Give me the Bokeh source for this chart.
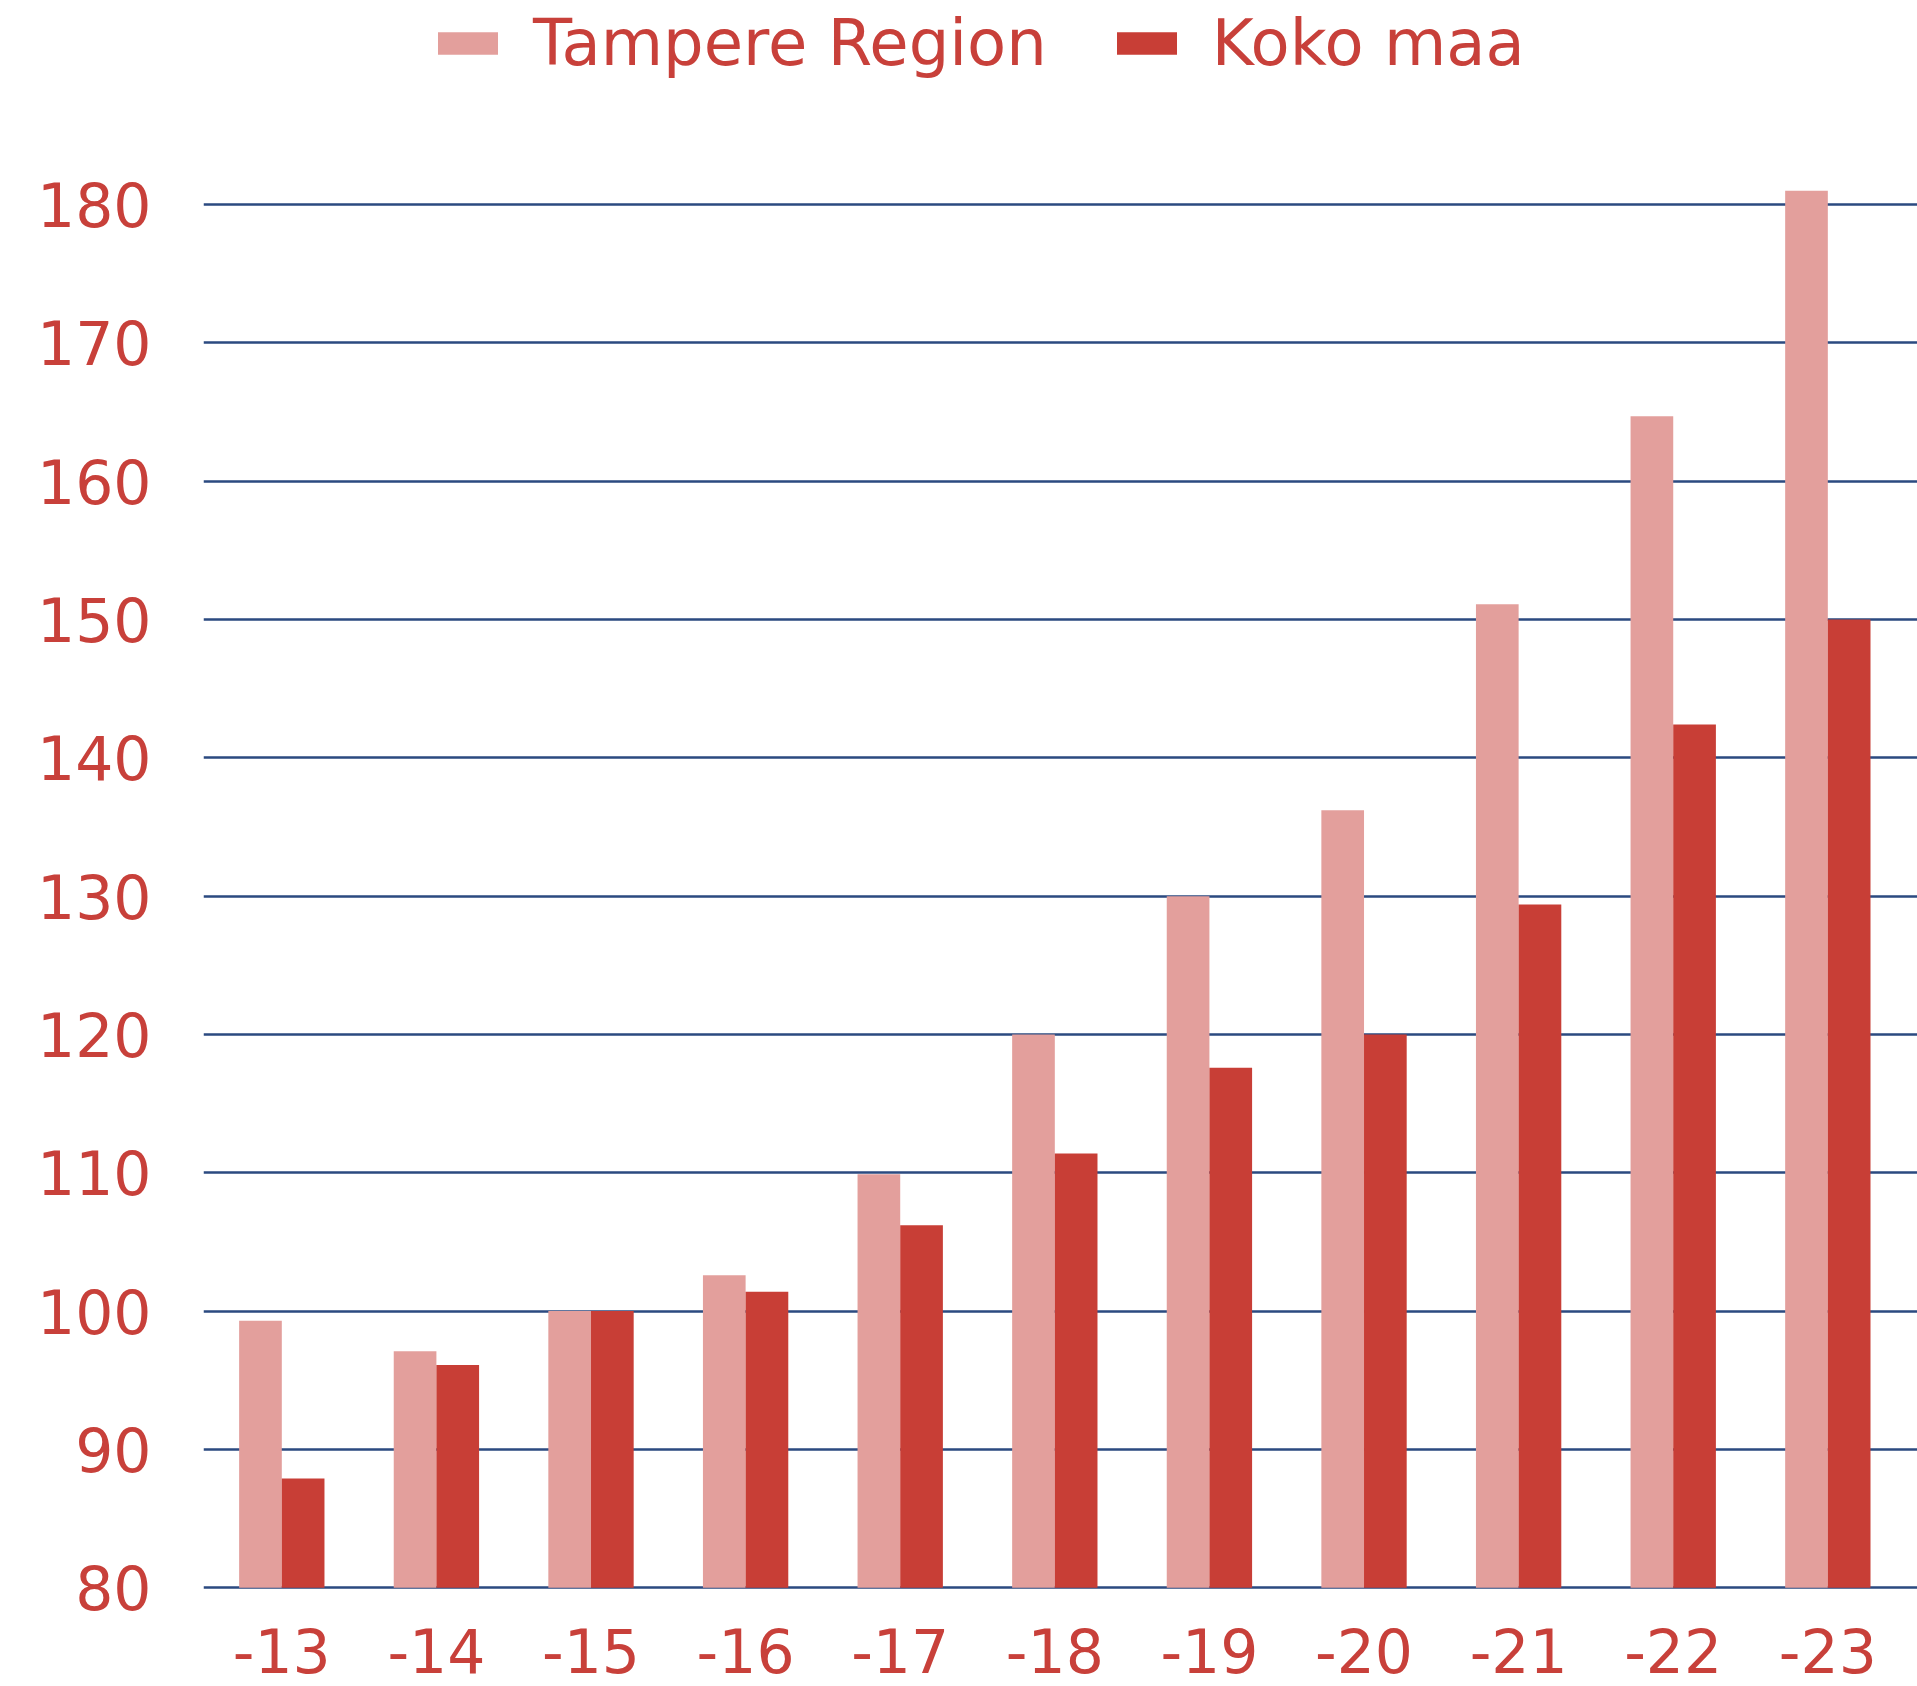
from bokeh.plotting import figure
from bokeh.models import Range1d, Legend, LegendItem, FixedTicker, ColumnDataSource
from bokeh.embed import file_html
from bokeh.resources import INLINE

years = ["-13", "-14", "-15", "-16", "-17", "-18", "-19", "-20", "-21", "-22", "-23"]
tampere = [99.3, 97.1, 100.0, 102.6, 109.9, 120.0, 130.0, 136.2, 151.1, 164.7, 181.0]
koko_maa = [87.9, 96.1, 100.0, 101.4, 106.2, 111.4, 117.6, 120.0, 129.4, 142.4, 150.0]
y_ticks = [80, 90, 100, 110, 120, 130, 140, 150, 160, 170, 180]

LIGHT = "#E39F9C"
DARK = "#C83E36"
TEXT = "#C8403A"
GRID = "#2B4A80"
FONT = "DejaVu Sans"

idx = list(range(len(years)))
bw = 0.276
src = ColumnDataSource(dict(
    x=idx,
    x_t=[i - bw / 2 for i in idx],
    x_k=[i + bw / 2 for i in idx],
    tampere=tampere, koko=koko_maa,
))

p = figure(
    x_range=Range1d(-0.5065, 10.580),
    y_range=Range1d(79.8, 194.75),
    width=1917, height=1686,
    output_backend="svg", toolbar_location=None,
    min_border_left=203, min_border_right=0, min_border_top=0, min_border_bottom=96,
    outline_line_color=None,
)

r1 = p.vbar(x="x_t", top="tampere", bottom=80, width=bw,
            source=src, fill_color=LIGHT, line_color=None)
r2 = p.vbar(x="x_k", top="koko", bottom=80, width=bw,
            source=src, fill_color=DARK, line_color=None)

# axes
p.yaxis.ticker = FixedTicker(ticks=y_ticks)
p.xaxis.ticker = FixedTicker(ticks=idx)
p.xaxis.major_label_overrides = {i: y for i, y in zip(idx, years)}
for ax in (p.xaxis[0], p.yaxis[0]):
    ax.axis_line_color = None
    ax.major_tick_line_color = None
    ax.minor_tick_line_color = None
    ax.major_tick_out = 0
    ax.major_tick_in = 0
    ax.major_label_text_font = FONT
    ax.major_label_text_font_size = "60px"
    ax.major_label_text_color = TEXT
p.yaxis.major_label_standoff = 52
p.xaxis.major_label_standoff = 37

p.xgrid.grid_line_color = None
p.ygrid.ticker = FixedTicker(ticks=y_ticks)
p.ygrid.grid_line_color = GRID
p.ygrid.grid_line_width = 2.5

legend = Legend(
    items=[LegendItem(label="Tampere Region", renderers=[r1]),
           LegendItem(label="Koko maa", renderers=[r2])],
    orientation="horizontal",
    location=(227, 1510),
    label_text_font=FONT, label_text_font_size="64px", label_text_color=TEXT,
    glyph_width=75, glyph_height=28, label_standoff=28, spacing=62,
    padding=0, margin=0, border_line_color=None, background_fill_alpha=0,
)
p.add_layout(legend, "center")

open("out.html", "w").write(file_html(p, INLINE))
